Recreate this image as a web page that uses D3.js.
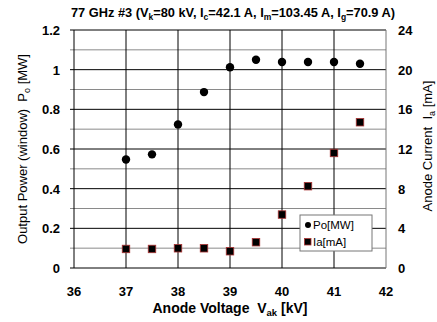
<!DOCTYPE html>
<html>
<head>
<meta charset="utf-8">
<script src="https://cdn.jsdelivr.net/npm/d3@7"></script>
<style>
  body { margin: 0; background: #fff; }
  text { font-family: "Liberation Sans", Arial, sans-serif; }
</style>
</head>
<body>
<script>
// anode voltage [kV]
const voltage = [37, 37.5, 38, 38.5, 39, 39.5, 40, 40.5, 41, 41.5];
// output power [MW]
const power = [0.547, 0.573, 0.724, 0.887, 1.012, 1.05, 1.039, 1.039, 1.039, 1.03];
// anode current [mA]
const current = [1.92, 1.92, 1.99, 1.99, 1.69, 2.6, 5.39, 8.25, 11.6, 14.7];

const xTicks = [36, 37, 38, 39, 40, 41, 42];
const yLeftTicks = [0, 0.2, 0.4, 0.6, 0.8, 1, 1.2];
const yRightTicks = [0, 4, 8, 12, 16, 20, 24];

const width = 437, height = 322;
const margin = { top: 30, right: 51, bottom: 54, left: 74 };

const svg = d3.select('body').append('svg')
  .attr('width', width)
  .attr('height', height);

const x = d3.scaleLinear().domain([36, 42]).range([margin.left, width - margin.right]);
const y = d3.scaleLinear().domain([0, 1.2]).range([height - margin.bottom, margin.top]);
const y2 = d3.scaleLinear().domain([0, 24]).range([height - margin.bottom, margin.top]);

// minor horizontal grid
const minor = d3.range(0.1, 1.2, 0.2);
svg.append('g').selectAll('line').data(minor).enter().append('line')
  .attr('x1', x(36) - 4).attr('x2', x(42))
  .attr('y1', d => y(d)).attr('y2', d => y(d))
  .attr('stroke', '#8a8a8a').attr('stroke-width', 1);

// major horizontal grid
svg.append('g').selectAll('line').data(yLeftTicks).enter().append('line')
  .attr('x1', x(36) - 4).attr('x2', x(42))
  .attr('y1', d => y(d)).attr('y2', d => y(d))
  .attr('stroke', '#000').attr('stroke-width', 1);

// vertical grid
svg.append('g').selectAll('line').data(xTicks).enter().append('line')
  .attr('x1', d => x(d)).attr('x2', d => x(d))
  .attr('y1', y(0)).attr('y2', y(1.2))
  .attr('stroke', d => d === 42 ? '#777' : '#000').attr('stroke-width', 1);

// left axis labels
svg.append('g').selectAll('text').data(yLeftTicks).enter().append('text')
  .attr('x', x(36) - 14).attr('y', d => y(d) + 5)
  .attr('text-anchor', 'end')
  .attr('font-size', 13).attr('font-weight', 'bold')
  .text(d => d);

// right axis labels
svg.append('g').selectAll('text').data(yRightTicks).enter().append('text')
  .attr('x', x(42) + 12).attr('y', d => y2(d) + 5)
  .attr('text-anchor', 'start')
  .attr('font-size', 13).attr('font-weight', 'bold')
  .text(d => d);

// bottom axis labels
svg.append('g').selectAll('text').data(xTicks).enter().append('text')
  .attr('x', d => x(d)).attr('y', y(0) + 28)
  .attr('text-anchor', 'middle')
  .attr('font-size', 13).attr('font-weight', 'bold')
  .text(d => d);

// title
const title = svg.append('text')
  .attr('x', 233).attr('y', 17)
  .attr('text-anchor', 'middle')
  .attr('font-size', 12.8).attr('font-weight', 'bold');
title.append('tspan').text('77 GHz #3 (V');
title.append('tspan').attr('font-size', 8.5).attr('dy', 3).text('k');
title.append('tspan').attr('dy', -3).text('=80 kV, I');
title.append('tspan').attr('font-size', 8.5).attr('dy', 3).text('c');
title.append('tspan').attr('dy', -3).text('=42.1 A, I');
title.append('tspan').attr('font-size', 8.5).attr('dy', 3).text('m');
title.append('tspan').attr('dy', -3).text('=103.45 A, I');
title.append('tspan').attr('font-size', 8.5).attr('dy', 3).text('g');
title.append('tspan').attr('dy', -3).text('=70.9 A)');

// x axis title
const xt = svg.append('text')
  .attr('x', 230).attr('y', 313)
  .attr('text-anchor', 'middle')
  .attr('font-size', 14).attr('font-weight', 'bold');
xt.append('tspan').text('Anode Voltage\u00a0\u00a0V');
xt.append('tspan').attr('font-size', 9.5).attr('dy', 3).text('ak');
xt.append('tspan').attr('dy', -3).text(' [kV]');

// left axis title
const lt = svg.append('text')
  .attr('transform', 'translate(27,149) rotate(-90)')
  .attr('text-anchor', 'middle')
  .attr('font-size', 13);
lt.append('tspan').text('Output Power (window)\u00a0\u00a0P');
lt.append('tspan').attr('font-size', 9).attr('dy', 3).text('o');
lt.append('tspan').attr('dy', -3).text(' [MW]');

// right axis title
const rt = svg.append('text')
  .attr('transform', 'translate(432,146) rotate(-90)')
  .attr('text-anchor', 'middle')
  .attr('font-size', 13);
rt.append('tspan').text('Anode Current\u00a0\u00a0I');
rt.append('tspan').attr('font-size', 9).attr('dy', 3).text('a');
rt.append('tspan').attr('dy', -3).text(' [mA]');

// power points
svg.append('g').selectAll('circle').data(voltage).enter().append('circle')
  .attr('cx', d => x(d))
  .attr('cy', (d, i) => y(power[i]))
  .attr('r', 4.2)
  .attr('fill', '#000');

// current points
const s = 7.5;
svg.append('g').selectAll('rect').data(voltage).enter().append('rect')
  .attr('x', d => x(d) - s / 2)
  .attr('y', (d, i) => y2(current[i]) - s / 2)
  .attr('width', s).attr('height', s)
  .attr('fill', '#000')
  .attr('stroke', '#a33')
  .attr('stroke-width', 0.8);

// legend
const lg = svg.append('g').attr('transform', 'translate(300,215)');
lg.append('rect').attr('width', 72).attr('height', 36)
  .attr('fill', '#fff').attr('stroke', '#777').attr('stroke-width', 1);
lg.append('circle').attr('cx', 8).attr('cy', 10).attr('r', 3).attr('fill', '#000');
lg.append('text').attr('x', 13).attr('y', 14).attr('font-size', 11.5).text('Po[MW]');
lg.append('rect').attr('x', 4.5).attr('y', 23.5).attr('width', 6.5).attr('height', 6.5)
  .attr('fill', '#000').attr('stroke', '#a33').attr('stroke-width', 0.8);
lg.append('text').attr('x', 13).attr('y', 31).attr('font-size', 11.5).text('Ia[mA]');
</script>
</body>
</html>
